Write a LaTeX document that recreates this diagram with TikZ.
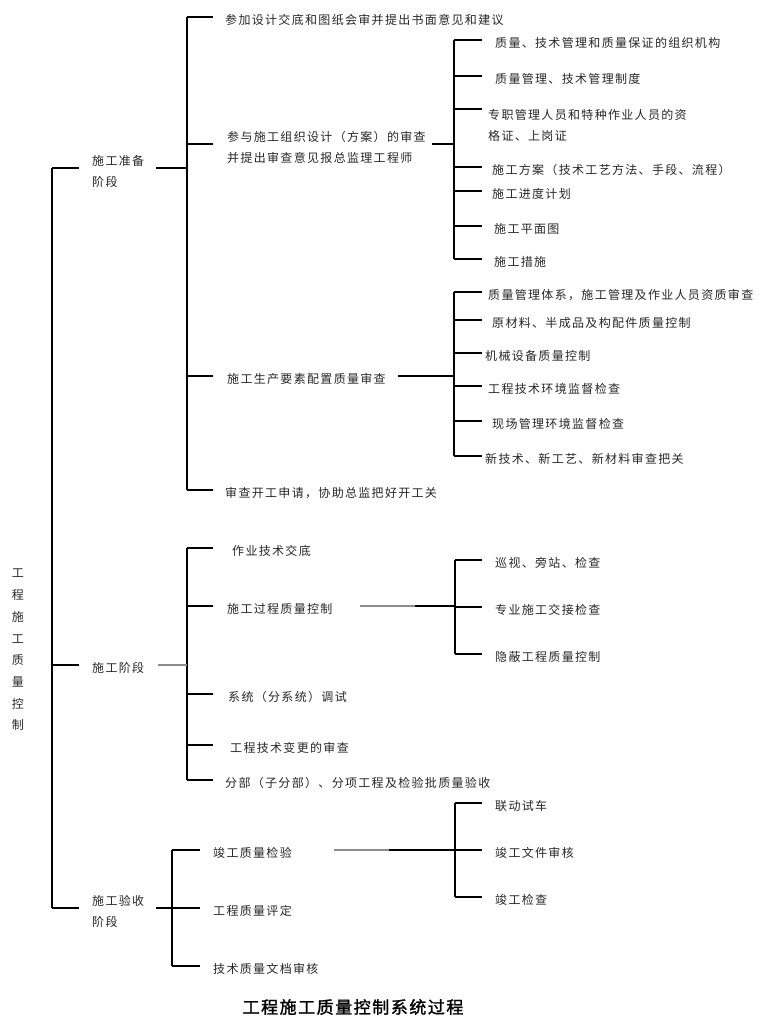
\documentclass[tikz,border=0pt]{standalone}
\usepackage{fontspec}
\newfontfamily\cjk{Noto Sans CJK SC}[LetterSpace=11]
\newfontfamily\cjkfett{Noto Sans CJK SC}[LetterSpace=9,FakeBold=1.5]
\usetikzlibrary{calc}

\begin{document}
\begin{tikzpicture}[x=1pt,y=-1pt,
    txt/.style={font=\cjk\fontsize{12}{21}\selectfont, text=black!85,
        inner sep=0pt, anchor=west, align=left},
    ast/.style={line width=1.7pt, black},
    grau/.style={line width=1.2pt, black!45}]
    \useasboundingbox (0,0) rectangle (760,1025);

    % Klammerpositionen
    \coordinate (b0) at (52,0);
    \coordinate (b1) at (187,0);
    \coordinate (b2) at (454,0);
    \coordinate (b3) at (454,0);
    \coordinate (b4) at (187,0);
    \coordinate (b5) at (455,0);
    \coordinate (b6) at (172,0);
    \coordinate (b7) at (455,0);

    % Titel links
    \node[txt, anchor=center, align=center, font=\cjk\fontsize{12}{21.7}\selectfont]
        (wurzel) at (18,650) {工\\程\\施\\工\\质\\量\\控\\制};

    % Stufe 1
    \node[txt] (s1) at (92,171) {施工准备\\阶段};
    \node[txt] (s2) at (92,668) {施工阶段};
    \node[txt] (s3) at (92,911) {施工验收\\阶段};

    % Stufe 2
    \node[txt] (a1) at (225,20) {参加设计交底和图纸会审并提出书面意见和建议};
    \node[txt] (a2) at (227,147) {参与施工组织设计（方案）的审查\\并提出审查意见报总监理工程师};
    \node[txt] (a3) at (227,379) {施工生产要素配置质量审查};
    \node[txt] (a4) at (225,493) {审查开工申请，协助总监把好开工关};

    \node[txt] (e1) at (232,551) {作业技术交底};
    \node[txt] (e2) at (227,609) {施工过程质量控制};
    \node[txt] (e3) at (228,697) {系统（分系统）调试};
    \node[txt] (e4) at (230,748) {工程技术变更的审查};
    \node[txt] (e5) at (225,783) {分部（子分部）、分项工程及检验批质量验收};

    \node[txt] (g1) at (213,853) {竣工质量检验};
    \node[txt] (g2) at (213,911) {工程质量评定};
    \node[txt] (g3) at (213,969) {技术质量文档审核};

    % Stufe 3
    \node[txt] (c1) at (495,43) {质量、技术管理和质量保证的组织机构};
    \node[txt] (c2) at (495,79) {质量管理、技术管理制度};
    \node[txt] (c3) at (488,125) {专职管理人员和特种作业人员的资\\格证、上岗证};
    \node[txt] (c4) at (492,170) {施工方案（技术工艺方法、手段、流程）};
    \node[txt] (c5) at (492,194) {施工进度计划};
    \node[txt] (c6) at (494,229) {施工平面图};
    \node[txt] (c7) at (494,262) {施工措施};

    \node[txt] (d1) at (488,295) {质量管理体系，施工管理及作业人员资质审查};
    \node[txt] (d2) at (492,323) {原材料、半成品及构配件质量控制};
    \node[txt] (d3) at (485,356) {机械设备质量控制};
    \node[txt] (d4) at (488,389) {工程技术环境监督检查};
    \node[txt] (d5) at (492,424) {现场管理环境监督检查};
    \node[txt] (d6) at (485,459) {新技术、新工艺、新材料审查把关};

    \node[txt] (f1) at (495,563) {巡视、旁站、检查};
    \node[txt] (f2) at (495,610) {专业施工交接检查};
    \node[txt] (f3) at (495,657) {隐蔽工程质量控制};

    \node[txt] (h1) at (495,806) {联动试车};
    \node[txt] (h2) at (495,853) {竣工文件审核};
    \node[txt] (h3) at (495,900) {竣工检查};

    % Bildunterschrift
    \node[font=\cjkfett\fontsize{17}{20}\selectfont, inner sep=0pt]
        (titel) at (353,1007) {工程施工质量控制系统过程};

    % Klammern mit Zweigen
    \foreach \k/\erst/\letzt/\liste/\lang in {
        b0/s1/s3/{s1,s2,s3}/27,
        b1/a1/a4/{a1,a2,a3,a4}/26,
        b2/c1/c7/{c1,c2,c4,c5,c6,c7}/28,
        b3/d1/d6/{d1,d2,d3,d4,d5,d6}/28,
        b4/e1/e5/{e1,e2,e3,e4,e5}/26,
        b5/f1/f3/{f1,f2,f3}/27,
        b6/g1/g3/{g1,g2,g3}/28,
        b7/h1/h3/{h1,h2,h3}/27} {
        \draw[ast] ([yshift=3pt]\erst.west -| \k) -- ([yshift=3pt]\letzt.west -| \k);
        \foreach \n in \liste {
            \draw[ast] ([yshift=3pt]\n.west -| \k) -- ++(\lang,0);
        }
    }
    % zweizeiliger Eintrag
    \draw[ast] ([yshift=16pt]c3.west -| b2) -- ++(28,0);
    \draw[ast] ([yshift=16pt]c3.west -| b2) -- ([yshift=3pt]c2.west -| b2);

    % Verbindungen zu den Klammern
    \draw[ast] ([xshift=12pt,yshift=3pt]s1.east) -- ([yshift=3pt]s1.east -| b1);
    \draw[ast] ([xshift=6pt,yshift=3pt]a2.east) -- ([yshift=3pt]a2.east -| b2);
    \draw[ast] ([xshift=12pt,yshift=3pt]a3.east) -- ([yshift=3pt]a3.east -| b3);
    \draw[grau] ([xshift=14pt,yshift=3pt]s2.east) -- ([yshift=3pt]s2.east -| b4);
    \draw[grau] ([xshift=27pt,yshift=3pt]e2.east) -- ++(55,0) coordinate (e2m);
    \draw[ast] (e2m) -- (e2m -| b5);
    \draw[ast] ([xshift=12pt,yshift=3pt]s3.east) -- ([yshift=3pt]s3.east -| b6);
    \draw[grau] ([xshift=42pt,yshift=3pt]g1.east) -- ++(55,0) coordinate (g1m);
    \draw[ast] (g1m) -- (g1m -| b7);
\end{tikzpicture}
\end{document}
